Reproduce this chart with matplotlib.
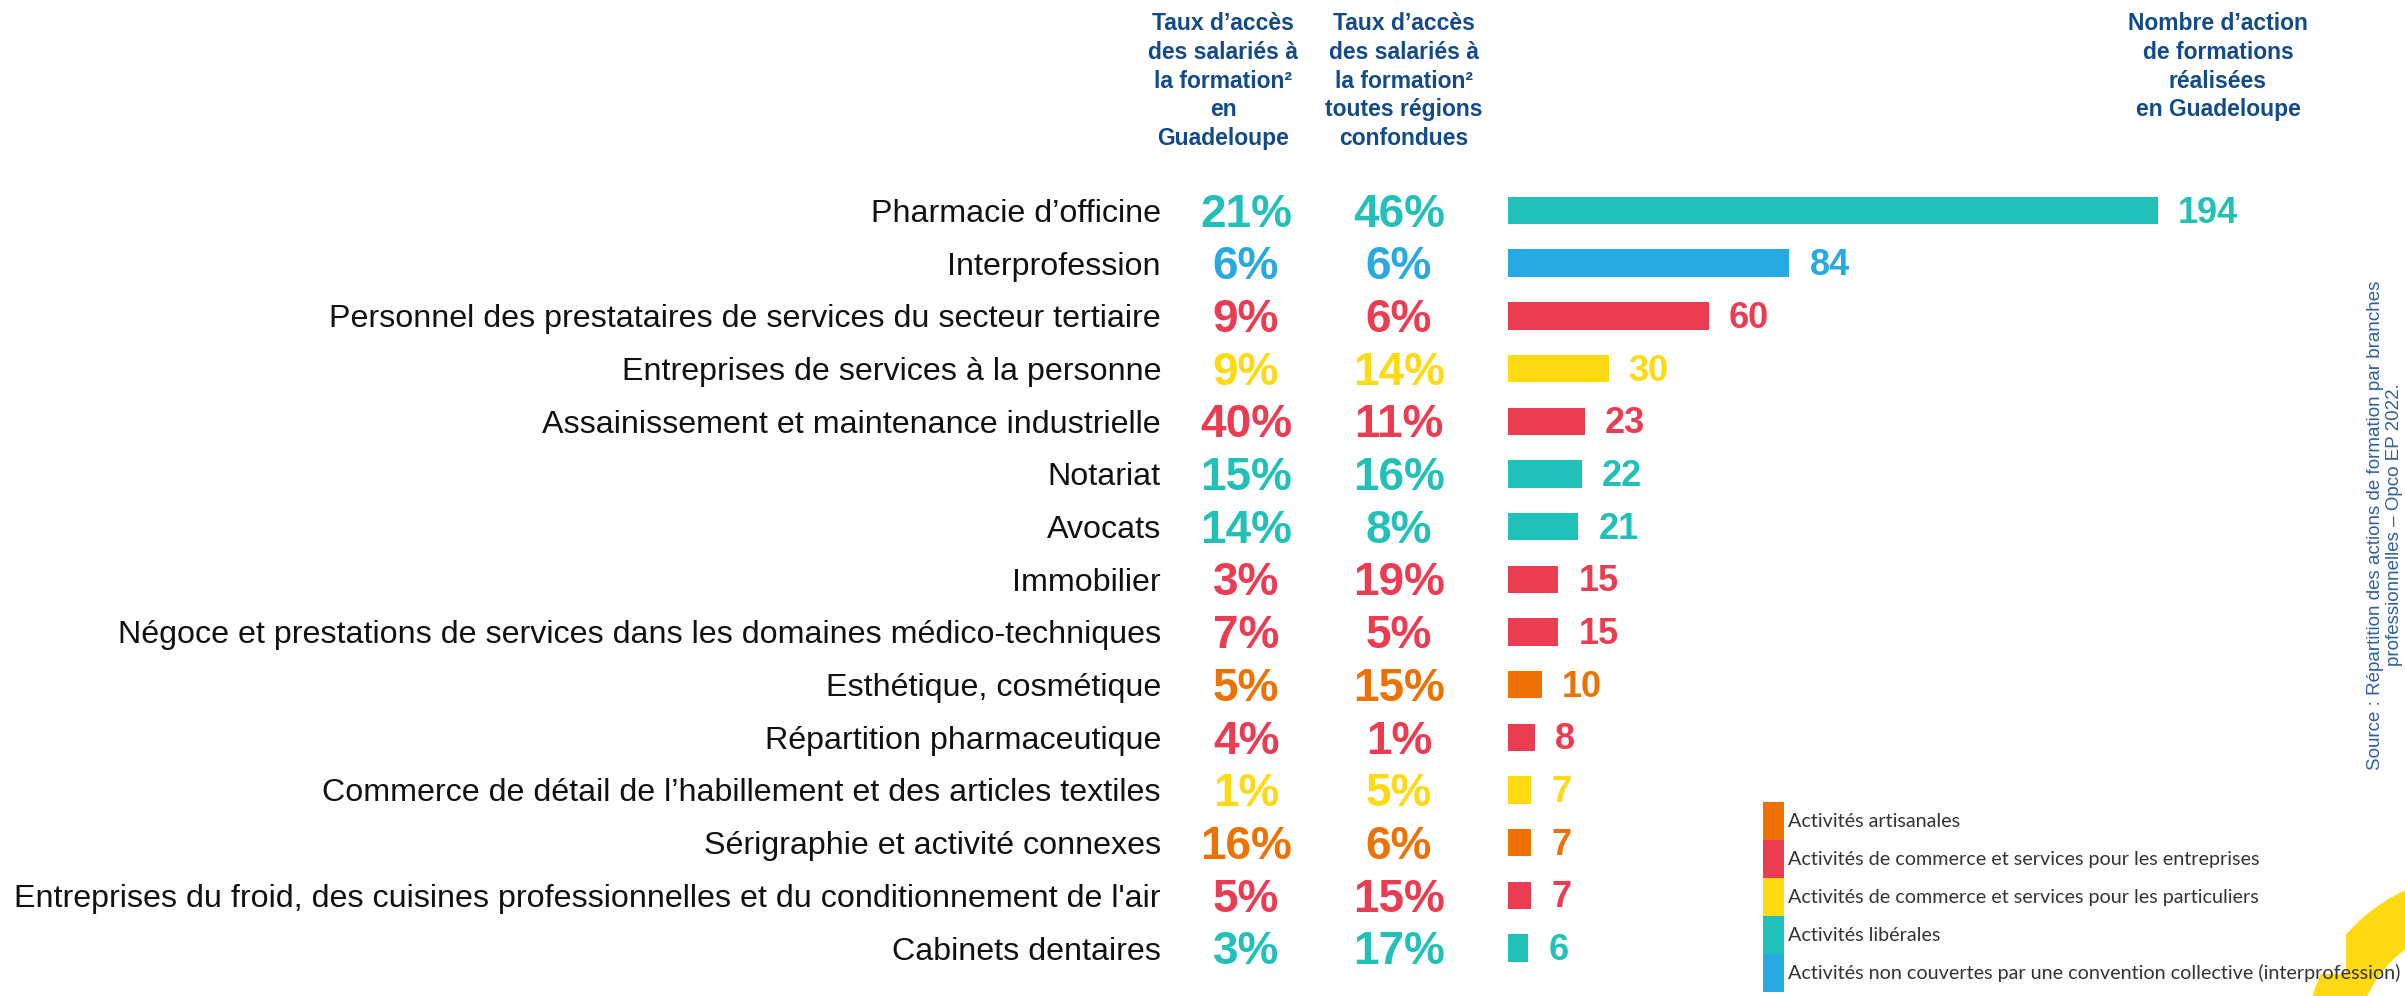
import numpy as np
import matplotlib.pyplot as plt
import matplotlib.transforms as mtransforms
from matplotlib.patches import Patch, Wedge

categories = ["Pharmacie d’officine", "Interprofession",
              "Personnel des prestataires de services du secteur tertiaire",
              "Entreprises de services à la personne",
              "Assainissement et maintenance industrielle", "Notariat", "Avocats",
              "Immobilier",
              "Négoce et prestations de services dans les domaines médico-techniques",
              "Esthétique, cosmétique", "Répartition pharmaceutique",
              "Commerce de détail de l’habillement et des articles textiles",
              "Sérigraphie et activité connexes",
              "Entreprises du froid, des cuisines professionnelles et du conditionnement de l'air",
              "Cabinets dentaires"]
taux_guadeloupe = [21, 6, 9, 9, 40, 15, 14, 3, 7, 5, 4, 1, 16, 5, 3]
taux_toutes = [46, 6, 6, 14, 11, 16, 8, 19, 5, 15, 1, 5, 6, 15, 17]
actions = [194, 84, 60, 30, 23, 22, 21, 15, 15, 10, 8, 7, 7, 7, 6]
groupe = ["lib", "inter", "entr", "part", "entr", "lib", "lib", "entr", "entr",
          "art", "entr", "part", "art", "entr", "lib"]

group_names = ["Activités artisanales",
               "Activités de commerce et services pour les entreprises",
               "Activités de commerce et services pour les particuliers",
               "Activités libérales",
               "Activités non couvertes par une convention collective (interprofession)"]
group_keys = ["art", "entr", "part", "lib", "inter"]
colors = {"art": "#ED7203", "entr": "#EC3C52", "part": "#FFD912",
          "lib": "#21C1B9", "inter": "#27AAE1"}

narrow = ['Liberation Sans Narrow', 'Liberation Sans']

W, H = 2405, 996
fig = plt.figure(figsize=(W / 100, H / 100), dpi=100)

def fx(px):
    return px / W

def fy(py):
    return 1 - py / H

# bar axes: rows 0..14, row centers at 210.5 .. 948 px
row_step = (948 - 210.5) / 14
top = 210.5 - row_step / 2
bottom = 948 + row_step / 2
x0 = 1508
unit = 3.35
xmax = 250
ax = fig.add_axes([fx(x0), fy(bottom), xmax * unit / W, (bottom - top) / H])
y = np.arange(len(categories))
bar_colors = [colors[g] for g in groupe]
ax.barh(y, actions, height=0.52, color=bar_colors)
ax.set_xlim(0, xmax)
ax.set_ylim(len(categories) - 0.5, -0.5)
for s in ax.spines.values():
    s.set_visible(False)
ax.set_xticks([])
ax.set_yticks(y)
ax.set_yticklabels(categories, family='Liberation Sans', fontsize=23.2, color='#111111')
ax.tick_params(axis='y', length=0, pad=(x0 - 1161) * 0.72)

for i, v in enumerate(actions):
    ax.text(v + 6, i + 0.05, str(v), va='center', ha='left', color=bar_colors[i],
            family=narrow, fontweight='bold', fontsize=26)

blend = mtransforms.blended_transform_factory(fig.transFigure, ax.transData)
for i in range(len(categories)):
    ax.text(fx(1246), i + 0.08, f"{taux_guadeloupe[i]}%", transform=blend, ha='center', va='center',
            color=bar_colors[i], family=narrow, fontweight='bold', fontsize=33)
    ax.text(fx(1399), i + 0.08, f"{taux_toutes[i]}%", transform=blend, ha='center', va='center',
            color=bar_colors[i], family=narrow, fontweight='bold', fontsize=33)

head_color = '#124A8A'
head_kw = dict(ha='center', va='top', color=head_color, family='Liberation Sans',
               fontweight='bold', fontsize=16.5, linespacing=1.32)
fig.text(fx(1223), fy(12), "Taux d’accès\ndes salariés à\nla formation²\nen\nGuadeloupe", **head_kw)
fig.text(fx(1404), fy(12), "Taux d’accès\ndes salariés à\nla formation²\ntoutes régions\nconfondues", **head_kw)
fig.text(fx(2218), fy(12), "Nombre d’action\nde formations\nréalisées\nen Guadeloupe", **head_kw)

fig.text(fx(2385), fy(525),
         "Source : Répartition des actions de formation par branches\nprofessionnelles – Opco EP 2022.",
         rotation=90, ha='center', va='center', multialignment='center',
         color='#2E5FA0', family='Liberation Sans', fontsize=13.5)

# decorative yellow ring in the corner
fig.add_artist(Wedge((2475, H - 1045), 169, 0, 360, width=50, color='#FFD912',
                     transform=mtransforms.IdentityTransform(), zorder=0))

handles = [Patch(facecolor=colors[k], edgecolor='none') for k in group_keys]
fig.legend(handles, group_names, loc='upper left', bbox_to_anchor=(fx(1763), fy(802)),
           frameon=False, borderpad=0, borderaxespad=0, labelspacing=0,
           handlelength=1.07, handleheight=2.58, handletextpad=0.2,
           prop={'family': 'Lato', 'size': 14.25}, labelcolor='#333333')

fig.savefig('out.png', dpi=100)
